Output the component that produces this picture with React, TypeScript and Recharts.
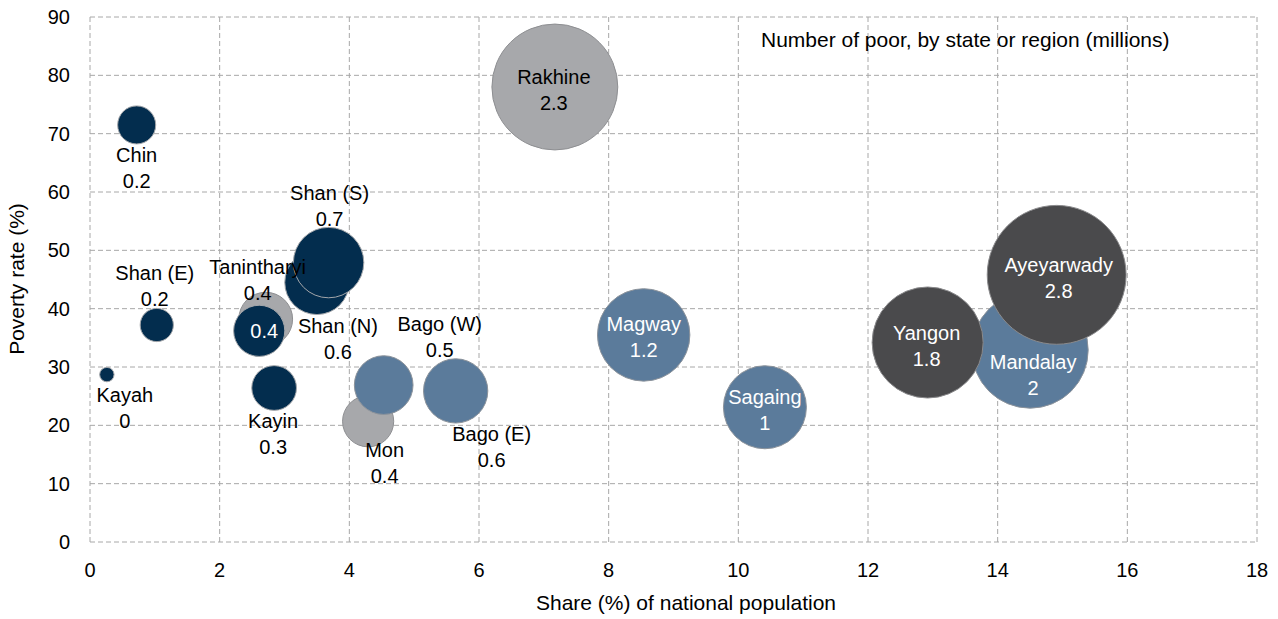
import { CartesianGrid, Scatter, ScatterChart, XAxis, YAxis, ZAxis } from "recharts";

// Myanmar states / regions, in drawing order (later ones sit on top)
const regions = [
  "Kayah",
  "Chin",
  "Shan (E)",
  "Tanintharyi",
  "Kachin",
  "Kayin",
  "Shan (N)",
  "Shan (S)",
  "Mon",
  "Bago (W)",
  "Bago (E)",
  "Rakhine",
  "Magway",
  "Sagaing",
  "Mandalay",
  "Yangon",
  "Ayeyarwady",
];

// share (%) of national population
const populationShare = [
  0.26, 0.72, 1.03, 2.71, 2.61, 2.84, 3.5, 3.68, 4.29, 4.53, 5.64, 7.17, 8.54,
  10.41, 14.5, 12.92, 14.91,
];

// poverty rate (%)
const povertyRate = [
  28.7, 71.5, 37.2, 38.2, 36.2, 26.4, 44.5, 47.9, 20.7, 26.9, 25.9, 78.0, 35.5,
  23.1, 32.9, 34.2, 45.8,
];

// number of poor (millions)
const poorMillions = [
  0.03, 0.21, 0.16, 0.42, 0.38, 0.29, 0.6, 0.72, 0.38, 0.5, 0.6, 2.3, 1.24, 1.0,
  1.96, 1.79, 2.8,
];

const regionGroup = [
  "navy", "navy", "navy", "grey", "navy", "navy", "navy", "navy", "grey",
  "steel", "steel", "grey", "steel", "steel", "steel", "dark", "dark",
];

const xTicks = [0, 2, 4, 6, 8, 10, 12, 14, 16, 18];
const yTicks = [0, 10, 20, 30, 40, 50, 60, 70, 80, 90];

const FILLS: Record<string, string> = {
  navy: "#032d4e",
  steel: "#5b7b9b",
  grey: "#a7a8ab",
  dark: "#4a4a4c",
};
const STROKES: Record<string, string> = {
  navy: "#a3a6aa",
  steel: "#8c939b",
  grey: "#8e8f92",
  dark: "#8a8a8c",
};

// label placement relative to the bubble centre, in px
type Place = { dx: number; dy: number; inside?: boolean; noName?: boolean };
const LABEL_PLACE: Record<string, Place> = {
  Kayah: { dx: 18, dy: 20.5 },
  Chin: { dx: 0, dy: 30.5 },
  "Shan (E)": { dx: -2, dy: -52.5 },
  Tanintharyi: { dx: -8, dy: -52 },
  Kachin: { dx: 5, dy: 0, inside: true, noName: true },
  Kayin: { dx: -1, dy: 32.5 },
  "Shan (N)": { dx: 21, dy: 44 },
  "Shan (S)": { dx: 1, dy: -69.5 },
  Mon: { dx: 16.5, dy: 29 },
  "Bago (W)": { dx: 56, dy: -61 },
  "Bago (E)": { dx: 36, dy: 43 },
  Rakhine: { dx: -1, dy: -10, inside: true },
  Magway: { dx: 0, dy: -10.5, inside: true },
  Sagaing: { dx: 0, dy: -10, inside: true },
  Mandalay: { dx: 3, dy: 12, inside: true },
  Yangon: { dx: -1, dy: -10, inside: true },
  Ayeyarwady: { dx: 2, dy: -9.5, inside: true },
};

const FONT = '"Liberation Sans", Arial, Helvetica, sans-serif';
const MAX_POOR = 2.8;
const MAX_AREA = Math.PI * 41.5 * 41.5 * MAX_POOR;

const data = regions.map((name, i) => ({
  name,
  share: populationShare[i],
  rate: povertyRate[i],
  poor: poorMillions[i],
  group: regionGroup[i],
}));

const fmt = (v: number) => String(Number(v.toFixed(1)));

const Bubble = (props: any) => {
  const { cx, cy, width, size, payload } = props;
  if (cx == null || cy == null) return null;
  const r = width ? width / 2 : Math.sqrt(size / Math.PI);
  return (
    <circle
      cx={cx}
      cy={cy}
      r={r}
      fill={FILLS[payload.group]}
      stroke={STROKES[payload.group]}
      strokeWidth={1}
    />
  );
};

const BubbleLabel = (props: any) => {
  const { cx, cy, payload } = props;
  if (cx == null || cy == null) return null;
  const p = LABEL_PLACE[payload.name];
  const white = p.inside && payload.group !== "grey";
  const fill = white ? "#ffffff" : "#000000";
  const x = cx + p.dx;
  const y = cy + p.dy + 7;
  return (
    <g>
      {p.noName ? (
        <text x={x} y={y} textAnchor="middle" fontSize={20} fill={fill}>
          {fmt(payload.poor)}
        </text>
      ) : (
        <>
          <text x={x} y={y} textAnchor="middle" fontSize={20} fill={fill}>
            {payload.name}
          </text>
          <text x={x} y={y + 26} textAnchor="middle" fontSize={20} fill={fill}>
            {fmt(payload.poor)}
          </text>
        </>
      )}
    </g>
  );
};

const titleStyle = {
  position: "absolute" as const,
  whiteSpace: "nowrap" as const,
  fontSize: 21,
  color: "#000",
};

export default function App() {
  return (
    <div
      style={{
        position: "relative",
        width: 1270,
        height: 619,
        marginTop: -8,
        fontFamily: FONT,
      }}
    >
      <ScatterChart
        width={1270}
        height={619}
        margin={{ top: 17, right: 21, bottom: 0, left: 22 }}
        style={{ fontFamily: FONT }}
      >
        <CartesianGrid stroke="#a8a8a8" strokeDasharray="5 3" />
        <XAxis
          type="number"
          dataKey="share"
          domain={[0, 18]}
          ticks={xTicks}
          interval={0}
          axisLine={false}
          tickLine={false}
          tickSize={0}
          tickMargin={21}
          height={77}
          tick={{ fontSize: 20, fill: "#000" }}
        />
        <YAxis
          type="number"
          dataKey="rate"
          domain={[0, 90]}
          ticks={yTicks}
          interval={0}
          axisLine={false}
          tickLine={false}
          tickSize={0}
          tickMargin={20}
          width={60}
          tick={{ fontSize: 20, fill: "#000" }}
        />
        <ZAxis type="number" dataKey="poor" domain={[0, MAX_POOR]} range={[0, MAX_AREA]} />
        <Scatter data={data} shape={Bubble} isAnimationActive={false} />
        <Scatter data={data} shape={BubbleLabel} isAnimationActive={false} />
      </ScatterChart>
      <div
        style={{
          ...titleStyle,
          left: 9,
          top: 279,
          transform: "translate(-50%, -50%) rotate(-90deg)",
        }}
      >
        Poverty rate (%)
      </div>
      <div
        style={{
          ...titleStyle,
          left: 678,
          top: 603,
          transform: "translate(-50%, -50%)",
        }}
      >
        Share (%) of national population
      </div>
      <div
        style={{
          ...titleStyle,
          left: 753,
          top: 40,
          transform: "translateY(-50%)",
        }}
      >
        Number of poor, by state or region (millions)
      </div>
    </div>
  );
}
